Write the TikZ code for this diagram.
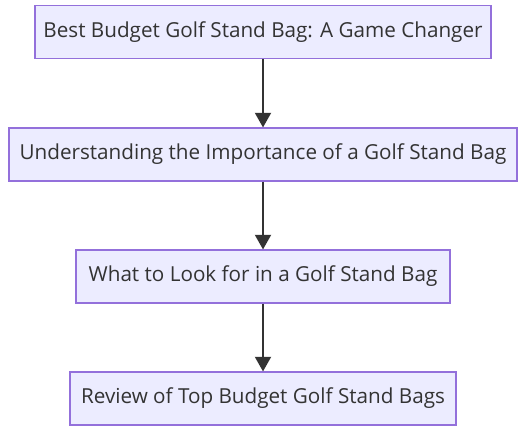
\documentclass[tikz,border=0pt]{standalone}
\usepackage{fontspec}
\setmainfont{Open Sans}
\usetikzlibrary{arrows.meta}
\definecolor{boxfill}{HTML}{ECECFF}
\definecolor{boxline}{HTML}{9370DB}
\definecolor{ink}{HTML}{333333}
\begin{document}
\begin{tikzpicture}[x=0.75pt, y=-0.75pt, >={Triangle[length=11pt,width=12pt]},
    step box/.style={draw=boxline, fill=boxfill, line width=1.1pt, text=ink,
        minimum height=39.5pt, inner xsep=6pt, font=\fontsize{15.5pt}{18pt}\selectfont}]
    \useasboundingbox (0,0) rectangle (532,430);

    % Kaesten
    \node[step box, minimum width=342pt] (best) at (263,32) {Best Budget Golf Stand Bag: A Game Changer};
    \node[step box, minimum width=381pt] (why) at (263,154.5) {Understanding the Importance of a Golf Stand Bag};
    \node[step box, minimum width=280.5pt] (look) at (263,276.5) {What to Look for in a Golf Stand Bag};
    \node[step box, minimum width=289.5pt] (review) at (263,398.5) {Review of Top Budget Golf Stand Bags};

    % Pfeile
    \draw[->, ink, line width=1.5pt] (best) -- (why);
    \draw[->, ink, line width=1.5pt] (why) -- (look);
    \draw[->, ink, line width=1.5pt] (look) -- (review);
\end{tikzpicture}
\end{document}
